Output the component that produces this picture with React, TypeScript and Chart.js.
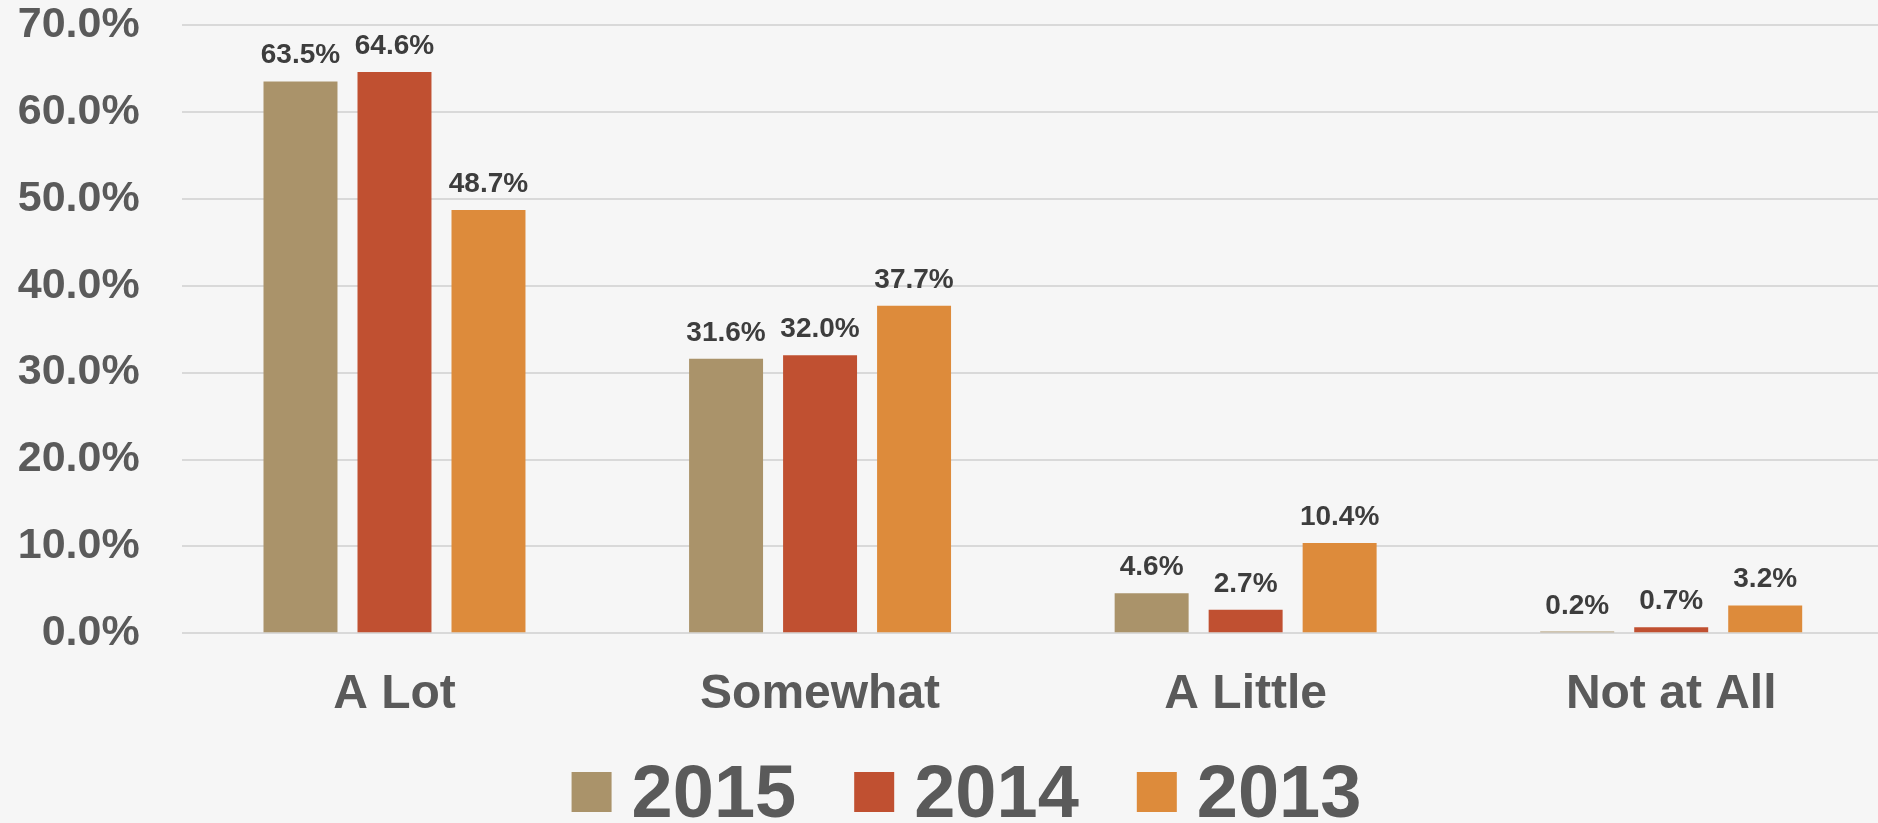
import React, { useEffect, useRef } from "react";
import { Chart, registerables } from "chart.js";

Chart.register(...registerables);

const categories = ["A Lot", "Somewhat", "A Little", "Not at All"];
const seriesLabels = ["2015", "2014", "2013"];
const values2015 = [63.5, 31.6, 4.6, 0.2];
const values2014 = [64.6, 32.0, 2.7, 0.7];
const values2013 = [48.7, 37.7, 10.4, 3.2];
const seriesColors = ["#AA936A", "#C05031", "#DD8B3B"];
const yTicks = [0, 10, 20, 30, 40, 50, 60, 70];

const FONT = '"Liberation Sans", Arial, Helvetica, sans-serif';

const dataLabelPlugin = {
  id: "dataLabels",
  afterDatasetsDraw(chart: any) {
    const ctx = chart.ctx;
    ctx.save();
    ctx.font = `bold 28px ${FONT}`;
    ctx.fillStyle = "#3d3d3d";
    ctx.textAlign = "center";
    ctx.textBaseline = "alphabetic";
    chart.data.datasets.forEach((ds: any, i: number) => {
      const meta = chart.getDatasetMeta(i);
      meta.data.forEach((bar: any, j: number) => {
        const v = ds.data[j];
        ctx.fillText(`${v.toFixed(1)}%`, bar.x, bar.y - 18);
      });
    });
    ctx.restore();
  },
};

const customLegendPlugin = {
  id: "customLegend",
  afterDraw(chart: any, _args: any, opts: any) {
    const ctx = chart.ctx;
    const box = 40;
    const gap = 20;
    const itemGap = 58;
    ctx.save();
    ctx.font = `bold 74px ${FONT}`;
    const items = chart.data.datasets.map((ds: any) => ({
      text: ds.label,
      color: ds.backgroundColor,
      w: ctx.measureText(ds.label).width,
    }));
    const total =
      items.reduce((s: number, it: any) => s + box + gap + it.w, 0) +
      itemGap * (items.length - 1);
    let x = opts.centerX - total / 2;
    const boxTop = opts.boxTop;
    items.forEach((it: any) => {
      ctx.fillStyle = it.color;
      ctx.fillRect(x, boxTop, box, box);
      ctx.fillStyle = "#5a5a5a";
      ctx.textAlign = "left";
      ctx.textBaseline = "alphabetic";
      ctx.fillText(it.text, x + box + gap, opts.baseline);
      x += box + gap + it.w + itemGap;
    });
    ctx.restore();
  },
};

export default function App() {
  const canvasRef = useRef<HTMLCanvasElement | null>(null);

  useEffect(() => {
    const canvas = canvasRef.current;
    if (!canvas) return;
    const chart = new Chart(canvas, {
      type: "bar",
      data: {
        labels: categories,
        datasets: [values2015, values2014, values2013].map((vals, i) => ({
          label: seriesLabels[i],
          data: vals,
          backgroundColor: seriesColors[i],
          borderWidth: 0,
          categoryPercentage: 0.6626,
          barPercentage: 0.787,
        })),
      },
      options: {
        responsive: false,
        animation: false,
        layout: { padding: { top: 25, bottom: 99.7, left: 0, right: 2 } },
        plugins: {
          legend: { display: false },
          tooltip: { enabled: false },
          customLegend: { centerX: 966.5, boxTop: 772, baseline: 817 },
        } as any,
        scales: {
          x: {
            type: "category",
            grid: { display: false, drawTicks: false },
            border: { display: false },
            ticks: {
              color: "#5a5a5a",
              font: { family: FONT, size: 48, weight: "bold", lineHeight: 1.2 },
              padding: 33,
              maxRotation: 0,
              autoSkip: false,
            },
            afterFit(scale: any) {
              scale.height = 90;
            },
          },
          y: {
            min: 0,
            max: 70,
            afterBuildTicks(scale: any) {
              scale.ticks = yTicks.map((v) => ({ value: v }));
            },
            grid: { color: "#d9d9d9", lineWidth: 2, drawTicks: false, tickLength: 0 },
            border: { display: false },
            ticks: {
              color: "#5a5a5a",
              font: { family: FONT, size: 43, weight: "bold", lineHeight: 1 },
              padding: 42,
              callback: (v: any) => `${Number(v).toFixed(1)}%`,
            },
            afterFit(scale: any) {
              scale.width = 181.7;
              scale.paddingTop = 0;
              scale.paddingBottom = 0;
            },
          },
        },
      },
      plugins: [dataLabelPlugin, customLegendPlugin],
    });
    return () => chart.destroy();
  }, []);

  return (
    <div
      style={{
        position: "fixed",
        left: 0,
        top: 0,
        width: 1878,
        height: 823,
        overflow: "hidden",
        background: "#f6f6f6",
      }}
    >
      <canvas ref={canvasRef} width={1886} height={823} style={{ display: "block" }} />
    </div>
  );
}
